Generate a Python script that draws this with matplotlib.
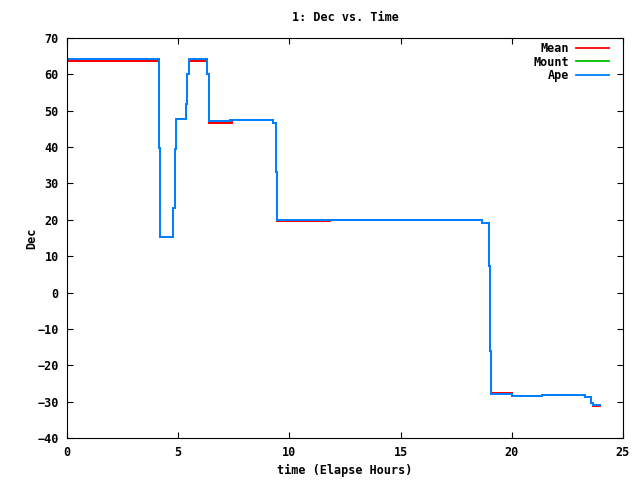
import numpy as np
from matplotlib import pyplot as plt

# step times (elapsed hours) and values
t = [0, 4.15, 4.19, 4.78, 4.84, 4.88, 5.37, 5.41, 5.47, 6.31, 6.37, 6.40,
     7.33, 7.40, 9.25, 9.40, 9.44, 11.83, 18.67, 18.99, 19.03, 19.08, 20.02,
     21.34, 23.29, 23.56, 23.64, 23.97]
ape = [64.1, 39.7, 15.4, 23.2, 39.6, 47.6, 51.8, 60.0, 64.1, 60.0, 51.8, 47.2,
       47.4, 47.5, 46.5, 33.2, 20.0, 20.0, 19.0, 7.4, -16.1, -28.0, -28.5,
       -28.3, -28.6, -30.4, -30.9, -30.9]
mount = list(ape)
mean = [63.8, 39.7, 15.4, 23.2, 39.6, 47.6, 51.8, 60.0, 63.8, 60.0, 51.8, 46.5,
        46.5, 47.5, 46.5, 33.2, 19.7, 20.0, 19.0, 7.4, -16.1, -27.7, -28.5,
        -28.3, -28.6, -30.4, -31.1, -31.1]

font = dict(family='DejaVu Sans Mono', weight='bold', size=8.5)

fig = plt.figure(figsize=(6.4, 4.8), dpi=100)
ax = fig.add_axes([67/640, 1-438/480, 556/640, 400/480])

ax.plot(t, mean, drawstyle='steps-post', color='#ff0000', lw=1.3, label='Mean', antialiased=False)
ax.plot(t, mount, drawstyle='steps-post', color='#00c000', lw=1.3, label='Mount', antialiased=False)
ax.plot(t, ape, drawstyle='steps-post', color='#0080ff', lw=1.3, label='Ape', antialiased=False)

ax.set_xlim(0, 25)
ax.set_ylim(-40, 70)
ax.set_xticks(np.arange(0, 26, 5))
ax.set_yticks(np.arange(-40, 71, 10))
ax.tick_params(direction='in', top=True, right=True, length=4, width=0.8, pad=6)
for lab in ax.get_xticklabels() + ax.get_yticklabels():
    lab.set_fontfamily(font['family'])
    lab.set_fontweight('bold')
    lab.set_fontsize(font['size'])
for s in ax.spines.values():
    s.set_linewidth(0.8)

ax.set_title('1: Dec vs. Time', fontdict=font, pad=12)
ax.set_xlabel('time (Elapse Hours)', fontdict=font, labelpad=3)
ax.set_ylabel('Dec', fontdict=font, labelpad=-1)

leg = ax.legend(loc='upper right', bbox_to_anchor=(0.975, 0.99),
                frameon=False, markerfirst=False,
                prop=dict(family='DejaVu Sans Mono', weight='bold', size=8.5),
                handlelength=2.8, handletextpad=0.6, labelspacing=0.05,
                borderaxespad=0, borderpad=0)

plt.savefig('out.png', dpi=100)
